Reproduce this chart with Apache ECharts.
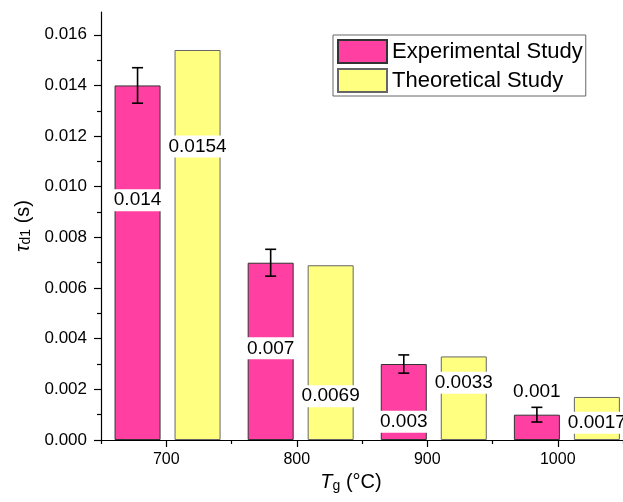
<!DOCTYPE html>
<html>
<head>
<meta charset="utf-8">
<script src="https://cdn.jsdelivr.net/npm/echarts@6/dist/echarts.min.js"></script>
<style>
  html, body { margin: 0; padding: 0; background: #fff; }
  #chart { width: 623px; height: 502px; }
</style>
</head>
<body>
<div id="chart"></div>
<script>
// where each pair of bars sits on the Tg axis
const temps = [701, 803, 905, 1007];
const expValues = [0.014, 0.007, 0.003, 0.001];
const theoValues = [0.0154, 0.0069, 0.0033, 0.0017];
const expErr = [0.0007, 0.00053, 0.00036, 0.00029];
// height (in seconds) at which each value label is centred
const expLabelAt = [0.00947, 0.00362, 0.00072, 0.00191];
const theoLabelAt = [0.01159, 0.00173, 0.00226, 0.00068];

const xTicks = [700, 800, 900, 1000];
const xMinorTicks = [650, 750, 850, 950, 1050];
const yTicks = [0, 0.002, 0.004, 0.006, 0.008, 0.01, 0.012, 0.014, 0.016];
const yMinorTicks = [0.001, 0.003, 0.005, 0.007, 0.009, 0.011, 0.013, 0.015];

const FONT = '"Liberation Sans", Arial, sans-serif';
const BAR_W = 46;
const GAP = 14;
const SHIFT = (BAR_W + GAP) / 2;

const pair = (xs, ys) => xs.map((x, i) => [x, ys[i]]);

// one row per value label: x, y, which side of the pair, text
const labelRows = [];
temps.forEach((t, i) => {
  labelRows.push([t, expLabelAt[i], -1, String(expValues[i])]);
  labelRows.push([t, theoLabelAt[i], 1, String(theoValues[i])]);
});

const chart = echarts.init(document.getElementById('chart'));

const option = {
  animation: false,
  grid: { left: 101, right: 0, top: 12, bottom: 62 },
  legend: {
    data: ['Experimental Study', 'Theoretical Study'],
    orient: 'vertical',
    left: 333,
    top: 35,
    padding: [4, 3, 3, 4],
    itemGap: 4,
    itemWidth: 49,
    itemHeight: 23,
    icon: 'rect',
    borderColor: '#666',
    borderWidth: 1,
    textStyle: { fontFamily: FONT, fontSize: 22, color: '#000' },
  },
  xAxis: [
    {
      type: 'value',
      min: 650,
      max: 1050,
      position: 'bottom',
      splitLine: { show: false },
      axisLine: { lineStyle: { color: '#000', width: 1.2 } },
      axisTick: { customValues: xTicks, length: 7, lineStyle: { color: '#000', width: 1.2 } },
      axisLabel: {
        customValues: xTicks, margin: 12, fontFamily: FONT, fontSize: 16, color: '#000',
        formatter: (v) => String(v),
      },
      name: '{i|T}{sub|g} (°C)',
      nameLocation: 'middle',
      nameGap: 31,
      nameTextStyle: {
        fontFamily: FONT, fontSize: 20, color: '#000', padding: [0, 22, 0, 0],
        rich: {
          i: { fontFamily: FONT, fontSize: 20, fontStyle: 'italic', color: '#000' },
          sub: { fontFamily: FONT, fontSize: 14, color: '#000', verticalAlign: 'bottom', lineHeight: 12 },
        },
      },
    },
    {
      type: 'value',
      min: 650,
      max: 1050,
      position: 'bottom',
      splitLine: { show: false },
      axisLine: { show: false },
      axisLabel: { show: false },
      axisTick: { customValues: xMinorTicks, length: 4, lineStyle: { color: '#000', width: 1.2 } },
    },
  ],
  yAxis: [
    {
      type: 'value',
      min: 0,
      max: 0.0169,
      position: 'left',
      splitLine: { show: false },
      axisLine: { show: true, lineStyle: { color: '#000', width: 1.2 } },
      axisTick: { show: true, customValues: yTicks, length: 7, lineStyle: { color: '#000', width: 1.2 } },
      axisLabel: {
        customValues: yTicks, margin: 14, fontFamily: FONT, fontSize: 17, color: '#000',
        formatter: (v) => v.toFixed(3),
      },
      name: '{i|τ}{sub|d1} (s)',
      nameLocation: 'middle',
      nameRotate: 90,
      nameGap: 67,
      nameTextStyle: {
        fontFamily: FONT, fontSize: 20, color: '#000',
        rich: {
          i: { fontFamily: FONT, fontSize: 20, fontStyle: 'italic', color: '#000' },
          sub: { fontFamily: FONT, fontSize: 14, color: '#000', verticalAlign: 'bottom', lineHeight: 12 },
        },
      },
    },
    {
      type: 'value',
      min: 0,
      max: 0.0169,
      position: 'left',
      splitLine: { show: false },
      axisLine: { show: false },
      axisLabel: { show: false },
      axisTick: { show: true, customValues: yMinorTicks, length: 4, lineStyle: { color: '#000', width: 1.2 } },
    },
  ],
  series: [
    {
      name: 'Experimental Study',
      type: 'bar',
      barWidth: BAR_W,
      barGap: (GAP / BAR_W * 100) + '%',
      data: pair(temps, expValues),
      itemStyle: { color: '#FF40A2', borderColor: '#333', borderWidth: 1 },
    },
    {
      name: 'Theoretical Study',
      type: 'bar',
      barWidth: BAR_W,
      barGap: (GAP / BAR_W * 100) + '%',
      data: pair(temps, theoValues),
      itemStyle: { color: '#FFFF80', borderColor: '#666', borderWidth: 1 },
    },
    {
      // error bars on the experimental bars
      type: 'custom',
      data: temps.map((t, i) => [t, expValues[i], expErr[i]]),
      encode: { x: 0, y: 1 },
      z: 5,
      renderItem: (params, api) => {
        const x = api.value(0), y = api.value(1), e = api.value(2);
        const top = api.coord([x, y + e]);
        const bot = api.coord([x, y - e]);
        const cx = top[0] - SHIFT;
        const style = { stroke: '#000', lineWidth: 1.6 };
        return {
          type: 'group',
          children: [
            { type: 'line', shape: { x1: cx, y1: top[1], x2: cx, y2: bot[1] }, style },
            { type: 'line', shape: { x1: cx - 5.5, y1: top[1], x2: cx + 5.5, y2: top[1] }, style },
            { type: 'line', shape: { x1: cx - 5.5, y1: bot[1], x2: cx + 5.5, y2: bot[1] }, style },
          ],
        };
      },
    },
    {
      // value labels with a white box behind them
      type: 'custom',
      data: labelRows.map((r) => [r[0], r[1], r[2]]),
      encode: { x: 0, y: 1 },
      z: 6,
      clip: false,
      renderItem: (params, api) => {
        const p = api.coord([api.value(0), api.value(1)]);
        return {
          type: 'text',
          x: p[0] + api.value(2) * SHIFT,
          y: p[1],
          style: {
            text: labelRows[params.dataIndex][3],
            fontFamily: FONT,
            fontSize: 19,
            fill: '#000',
            backgroundColor: '#fff',
            padding: [2, 1, 1, 1],
            align: 'center',
            verticalAlign: 'middle',
          },
        };
      },
    },
  ],
};

chart.setOption(option);
</script>
</body>
</html>
